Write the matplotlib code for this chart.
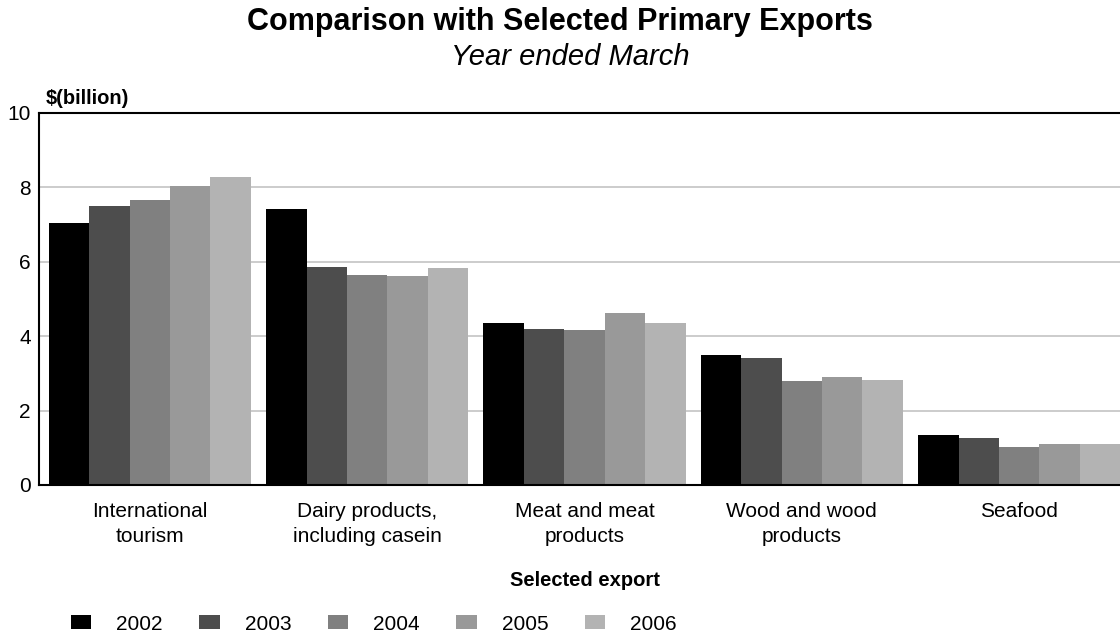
import matplotlib
matplotlib.use("Agg")
import matplotlib.pyplot as plt
from matplotlib.patches import Rectangle
import numpy as np

plt.rcParams['font.family'] = ['Liberation Sans', 'DejaVu Sans']

categories = ["International\ntourism", "Dairy products,\nincluding casein",
              "Meat and meat\nproducts", "Wood and wood\nproducts", "Seafood"]
years = ["2002", "2003", "2004", "2005", "2006"]
values = {
    "2002": [7.03, 7.42, 4.35, 3.49, 1.34],
    "2003": [7.50, 5.85, 4.19, 3.41, 1.26],
    "2004": [7.66, 5.65, 4.17, 2.80, 1.02],
    "2005": [8.04, 5.62, 4.62, 2.90, 1.10],
    "2006": [8.28, 5.83, 4.35, 2.82, 1.10],
}
colors = ["#000000", "#4d4d4d", "#808080", "#999999", "#b3b3b3"]
yticks = [0, 2, 4, 6, 8, 10]

W, H = 1120, 632
fig = plt.figure(figsize=(W / 100, H / 100), dpi=100)
ax = fig.add_axes([39 / W, (H - 485) / H, 1091 / W, 372 / H])

x = np.arange(len(categories))
bw = 0.186
for i, y in enumerate(years):
    ax.bar(x + (i - 2) * bw, values[y], width=bw, color=colors[i],
           linewidth=0, zorder=3)

ax.set_xlim(-0.51, 4.51)
ax.set_ylim(0, 10)
ax.set_yticks(yticks)
ax.set_xticks(x)
ax.set_xticklabels(categories, linespacing=1.45)
ax.tick_params(axis='both', length=0, labelsize=15)
ax.tick_params(axis='y', pad=6)
ax.tick_params(axis='x', pad=12)
ax.yaxis.grid(True, color='#c8c8c8', linewidth=1.3, zorder=0)
ax.set_axisbelow(True)
for s in ['left', 'top', 'bottom']:
    ax.spines[s].set_linewidth(1.5)
    ax.spines[s].set_color('black')
ax.spines['right'].set_visible(False)
ax.spines['top'].set_zorder(5)
ax.spines['bottom'].set_zorder(5)

ax.set_xlabel("Selected export", fontsize=14.5, fontweight='bold', labelpad=18)

fig.text(0.5, 1 - 22 / H, "Comparison with Selected Primary Exports",
         ha='center', va='center', fontsize=22, fontweight='bold')
fig.text(570 / W, 1 - 57 / H, "Year ended March",
         ha='center', va='center', fontsize=21, style='italic')
fig.text(46 / W, 1 - 98 / H, "$(billion)", ha='left', va='center',
         fontsize=14.5, fontweight='bold')

handles = [Rectangle((0, 0), 1, 1, color=c, linewidth=0) for c in colors]
fig.legend(handles, years, loc='center left', bbox_to_anchor=(71 / W, 1 - 624 / H),
           ncol=5, frameon=False, fontsize=15, handlelength=0.97, handleheight=0.68,
           handletextpad=1.2, columnspacing=1.76, borderpad=0, borderaxespad=0)

fig.savefig("out.png", dpi=100)
